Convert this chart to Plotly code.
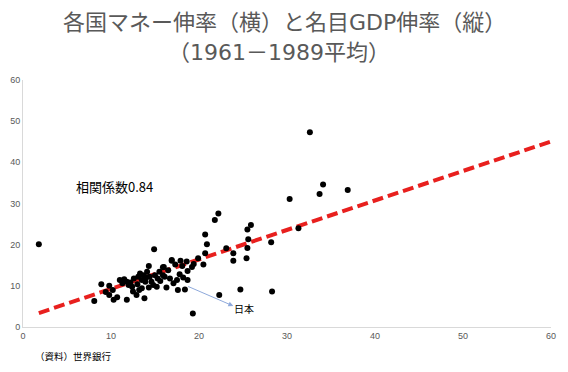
import plotly.graph_objects as go

# Money growth (x) vs nominal GDP growth (y), 1961-1989 averages
money_growth = [1.8, 8.1, 8.9, 9.8, 9.4, 9.8, 10.3, 10.7, 10.2, 11.8, 11.5, 11.8, 11.3, 12.0,
                12.4, 12.5, 12.9, 13.2, 13.5, 13.8, 12.6, 13.1, 13.3, 13.5, 13.9, 14.1, 14.4,
                14.6, 14.8, 15.0, 15.2, 15.3, 15.5, 15.9, 16.0, 16.3, 16.7, 16.9, 17.1, 17.5,
                17.6, 17.9, 18.1, 18.4, 18.6, 18.7, 18.7, 19.2, 19.4, 19.9, 20.5, 20.7, 20.9,
                20.7, 21.8, 22.2, 23.1, 23.9, 23.9, 22.3, 24.7, 19.3, 25.4, 25.5, 25.6, 25.5,
                25.9, 28.2, 28.3, 30.3, 31.3, 32.6, 33.7, 34.1, 36.9, 14.9, 14.3, 15.9, 16.9,
                17.3, 16.5, 14.0, 13.7, 12.2, 11.0, 15.6, 16.1, 17.8, 18.2, 14.3, 13.0]
gdp_growth = [20.1, 6.3, 10.4, 10.0, 8.5, 7.8, 6.6, 7.2, 9.0, 6.6, 11.6, 11.0, 10.6, 10.2,
              9.8, 8.6, 7.8, 9.0, 9.4, 7.0, 11.8, 12.2, 13.0, 11.4, 11.0, 13.4, 12.2,
              11.0, 10.2, 12.6, 9.8, 11.8, 13.4, 12.6, 14.6, 9.6, 11.8, 16.3, 10.6, 11.4,
              9.0, 16.1, 14.8, 9.1, 15.9, 11.4, 13.6, 14.6, 15.3, 16.7, 15.2, 17.9, 20.1,
              22.5, 26.0, 27.6, 19.1, 17.9, 16.1, 7.8, 9.1, 3.3, 16.7, 19.2, 21.3, 23.7,
              24.8, 20.6, 8.6, 31.1, 24.0, 47.3, 32.3, 34.6, 33.3, 18.9, 14.8, 14.5, 16.1,
              15.2, 13.8, 12.0, 12.6, 10.8, 11.4, 11.2, 12.2, 12.8, 12.0, 9.6, 10.4]

# Linear trendline (slope, intercept) and its x extent
trend_slope = 0.716
trend_intercept = 2.1
trend_x = [1.8, 60]
trend_y = [trend_slope * v + trend_intercept for v in trend_x]

tick_vals = [0, 10, 20, 30, 40, 50, 60]

title_line1 = "各国マネー伸率（横）と名目GDP伸率（縦）"
title_line2 = "（1961－1989平均）"
corr_label = "相関係数0.84"
japan_label = "日本"
source_label = "（資料）世界銀行"

CJK = "Noto Sans CJK JP"
TITLE_FONT = "DejaVu Sans, Noto Sans CJK JP"
gray = "#595959"

# The page body has an 8px margin; size the figure so it fits the 568x372 window.
OFF = 8
W, H = 568 - OFF, 372 - OFF
# plot area in window pixels
PL, PR, PT, PB = 23, 551, 80, 327
PW, PH = PR - PL, PB - PT
CX = (PL + PR) / 2


def px_x(p):
    return (p - PL) / PW


def px_y(p):
    return (PB - p) / PH


fig = go.Figure()
fig.add_trace(go.Scatter(
    x=trend_x, y=trend_y, mode="lines",
    line=dict(color="#E8201E", width=4, dash="11px,5px"),
    hoverinfo="skip", showlegend=False))
fig.add_trace(go.Scatter(
    x=money_growth, y=gdp_growth, mode="markers",
    marker=dict(color="black", size=6),
    showlegend=False))

fig.update_layout(
    width=W, height=H,
    margin=dict(l=PL - OFF, r=W - (PR - OFF), t=PT - OFF, b=H - (PB - OFF)),
    paper_bgcolor="white", plot_bgcolor="white",
    font=dict(family=CJK, color=gray),
    xaxis=dict(range=[0, 60], tickvals=tick_vals, showgrid=False, zeroline=False,
               showline=True, linecolor="#D9D9D9", linewidth=1, ticks="",
               automargin=False,
               tickfont=dict(size=9, color=gray, family="Liberation Sans")),
    yaxis=dict(range=[0, 60], tickvals=tick_vals, showgrid=False, zeroline=False,
               showline=True, linecolor="#D9D9D9", linewidth=1, ticks="",
               automargin=False,
               tickfont=dict(size=9, color=gray, family="Liberation Sans")),
    annotations=[
        dict(x=0.5, y=px_y(23), xref="paper", yref="paper", text=title_line1,
             showarrow=False, xanchor="center", yanchor="middle", xshift=(284 - CX),
             font=dict(size=22, color=gray, family=TITLE_FONT)),
        dict(x=0.5, y=px_y(52), xref="paper", yref="paper", text=title_line2,
             showarrow=False, xanchor="center", yanchor="middle", xshift=(279 - CX),
             font=dict(size=22, color=gray, family=TITLE_FONT)),
        dict(x=23.9, y=5.1, ax=18.6, ay=10.0, xref="x", yref="y", axref="x", ayref="y",
             text="", showarrow=True, arrowhead=2, arrowsize=1, arrowwidth=1,
             arrowcolor="#8EA9DB"),
        dict(x=24.0, y=4.6, xref="x", yref="y", text=japan_label, showarrow=False,
             xanchor="left", yanchor="middle", xshift=-2,
             font=dict(size=10, color="black", family=CJK)),
        dict(x=px_x(74), y=px_y(186), xref="paper", yref="paper", text=corr_label,
             showarrow=False, xanchor="left", yanchor="middle",
             font=dict(size=13, color="black", family=CJK)),
        dict(x=px_x(33), y=px_y(356), xref="paper", yref="paper", text=source_label,
             showarrow=False, xanchor="left", yanchor="middle",
             font=dict(size=9.5, color="black", family=CJK)),
    ],
)

fig.write_html("out.html")
